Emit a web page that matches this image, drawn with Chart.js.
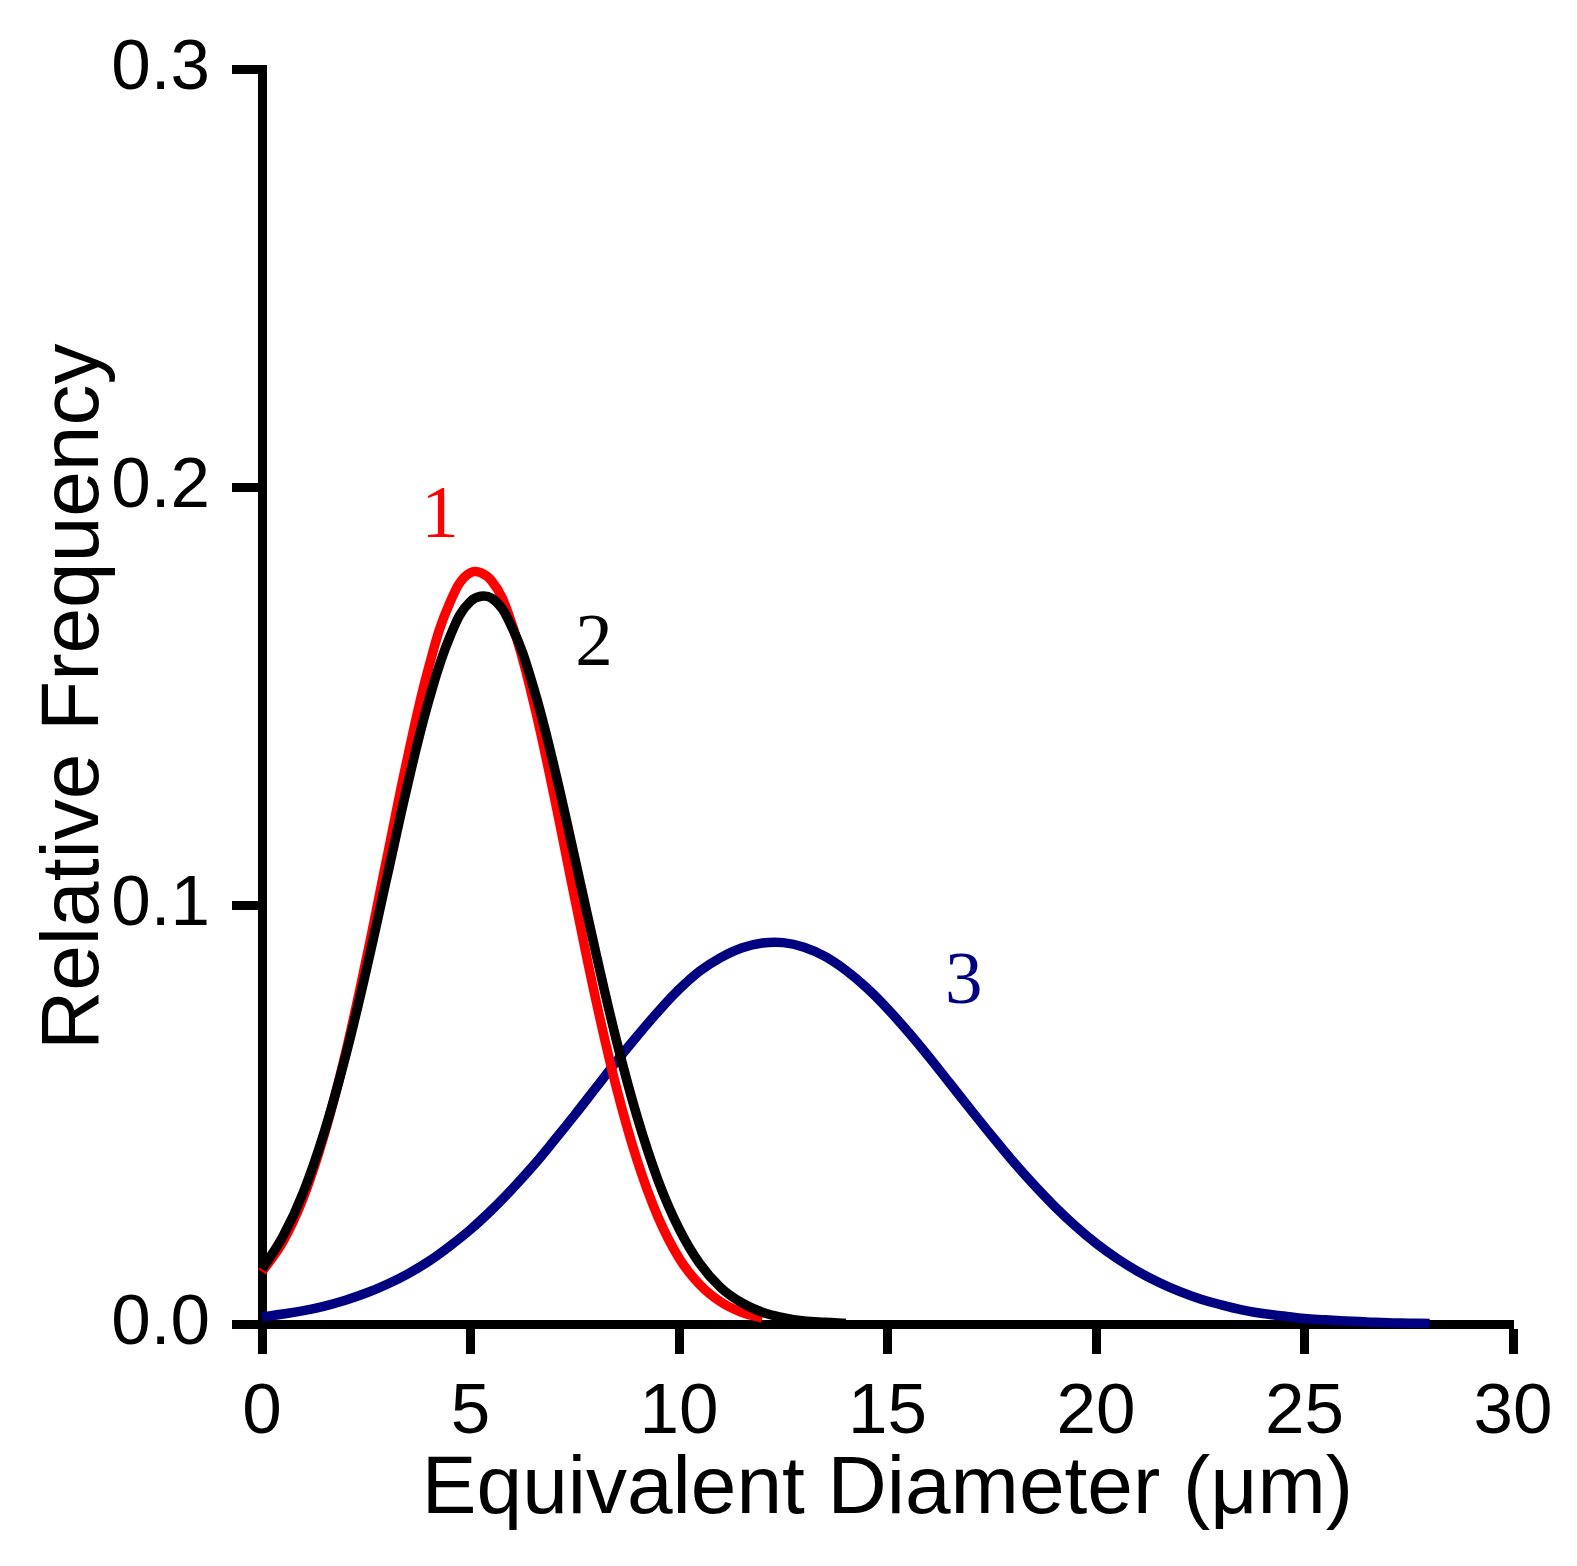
<!DOCTYPE html>
<html>
<head>
<meta charset="utf-8">
<script src="https://cdn.jsdelivr.net/npm/chart.js@4.4.1/dist/chart.umd.min.js"></script>
<style>
  html, body { margin: 0; padding: 0; background: #ffffff; }
  #wrap { width: 1577px; height: 1566px; }
</style>
</head>
<body>
<div id="wrap"><canvas id="c" width="1577" height="1566"></canvas></div>
<script>
// ---- Data ----
const xTitle = 'Equivalent Diameter (\u03bcm)';
const yTitle = 'Relative Frequency';
const xTicks = [0, 5, 10, 15, 20, 25, 30];
const yTicks = [0.0, 0.1, 0.2, 0.3];

const xCurve1 = [0, 0.5, 1, 1.5, 2, 2.5, 3, 3.5, 4, 4.5, 5, 5.5, 6, 6.5, 7, 7.5, 8, 8.5, 9, 9.5, 10, 10.5, 11, 11.5, 12];
const yCurve1 = [0.0125, 0.0196, 0.0304, 0.0455, 0.0646, 0.0872, 0.1117, 0.1359, 0.1571, 0.1724, 0.1797, 0.1778, 0.1672, 0.1492, 0.1265, 0.1018, 0.0778, 0.0565, 0.0390, 0.0255, 0.0158, 0.0094, 0.0053, 0.0028, 0.0014];

const xCurve2 = [0, 0.5, 1, 1.5, 2, 2.5, 3, 3.5, 4, 4.5, 5, 5.5, 6, 6.5, 7, 7.5, 8, 8.5, 9, 9.5, 10, 10.5, 11, 11.5, 12, 12.5, 13, 13.5, 14];
const yCurve2 = [0.0131, 0.0209, 0.0317, 0.0461, 0.0639, 0.0846, 0.1070, 0.1293, 0.1491, 0.1642, 0.1728, 0.1736, 0.1665, 0.1526, 0.1335, 0.1115, 0.0890, 0.0678, 0.0494, 0.0343, 0.0228, 0.0144, 0.0087, 0.0051, 0.0028, 0.0015, 0.0007, 0.0004, 0.0002];

const xCurve3 = [0, 0.5, 1, 1.5, 2, 2.5, 3, 3.5, 4, 4.5, 5, 5.5, 6, 6.5, 7, 7.5, 8, 8.5, 9, 9.5, 10, 10.5, 11, 11.5, 12, 12.5, 13, 13.5, 14, 14.5, 15, 15.5, 16, 16.5, 17, 17.5, 18, 18.5, 19, 19.5, 20, 20.5, 21, 21.5, 22, 22.5, 23, 23.5, 24, 24.5, 25, 25.5, 26, 26.5, 27, 27.5, 28];
const yCurve3 = [0.0017, 0.0024, 0.0032, 0.0043, 0.0057, 0.0074, 0.0095, 0.0120, 0.0150, 0.0186, 0.0226, 0.0272, 0.0323, 0.0378, 0.0438, 0.0500, 0.0564, 0.0628, 0.0689, 0.0747, 0.0800, 0.0844, 0.0876, 0.0899, 0.0911, 0.0912, 0.0901, 0.0879, 0.0846, 0.0804, 0.0754, 0.0698, 0.0638, 0.0575, 0.0512, 0.0450, 0.0390, 0.0334, 0.0282, 0.0235, 0.0193, 0.0157, 0.0126, 0.0100, 0.0078, 0.0060, 0.0046, 0.0034, 0.0025, 0.0019, 0.0013, 0.0010, 0.0007, 0.0005, 0.0003, 0.0002, 0.0001];

const curveLabels = ['1', '2', '3'];
const labelX = [4.27, 7.96, 16.83];
const labelY = [0.1883, 0.1577, 0.0768];

// ---- Build datasets ----
function zip(xs, ys) { return xs.map((x, i) => ({ x: x, y: ys[i] })); }

const curveColors = ['#ff0000', '#000000', '#000080'];

const labelPlugin = {
  id: 'curveLabels',
  afterDatasetsDraw(chart) {
    const ctx = chart.ctx;
    const xs = chart.scales.x, ys = chart.scales.y;
    ctx.save();
    ctx.font = '75px "Liberation Serif", "Times New Roman", serif';
    ctx.textAlign = 'center';
    ctx.textBaseline = 'alphabetic';
    curveLabels.forEach((t, i) => {
      ctx.fillStyle = curveColors[i];
      ctx.fillText(t, xs.getPixelForValue(labelX[i]), ys.getPixelForValue(labelY[i]));
    });
    ctx.restore();
  }
};

const tickFont = { family: '"Liberation Sans", Arial, sans-serif', size: 71 };
const titleFont = { family: '"Liberation Sans", Arial, sans-serif', size: 82, lineHeight: 1.2 };

new Chart(document.getElementById('c'), {
  type: 'scatter',
  data: {
    datasets: [
      { data: zip(xCurve1, yCurve1), borderColor: curveColors[0], order: 1 },
      { data: zip(xCurve2, yCurve2), borderColor: curveColors[1], order: 0 },
      { data: zip(xCurve3, yCurve3), borderColor: curveColors[2], order: 2 }
    ].map(d => Object.assign(d, {
      showLine: true, pointRadius: 0, borderWidth: 9.5, fill: false,
      tension: 0.4, clip: false,
      borderCapStyle: 'butt', borderJoinStyle: 'round'
    }))
  },
  options: {
    responsive: false,
    animation: false,
    events: [],
    layout: { padding: { left: 0, top: 69.5, right: 64, bottom: 0 } },
    plugins: { legend: { display: false }, tooltip: { enabled: false } },
    scales: {
      x: {
        type: 'linear', min: 0, max: 30,
        afterBuildTicks: s => { s.ticks = xTicks.map(v => ({ value: v })); },
        afterFit: s => { s.height = 242; },
        ticks: { color: '#000', font: tickFont, padding: 17, maxRotation: 0, autoSkip: false,
                 callback: v => String(v) },
        grid: { drawOnChartArea: false, drawTicks: true, tickLength: 30, tickWidth: 9, tickColor: '#000', color: '#000' },
        border: { display: true, width: 9, color: '#000' },
        title: { display: true, text: xTitle, color: '#000', font: titleFont, padding: { top: 0, bottom: 26 } }
      },
      y: {
        type: 'linear', min: 0, max: 0.3,
        afterBuildTicks: s => { s.ticks = yTicks.map(v => ({ value: v })); },
        afterFit: s => { s.width = 262; },
        ticks: { color: '#000', font: tickFont, padding: 22, autoSkip: false,
                 callback: v => Number(v).toFixed(1) },
        grid: { drawOnChartArea: false, drawTicks: true, tickLength: 30, tickWidth: 9, tickColor: '#000', color: '#000' },
        border: { display: true, width: 9, color: '#000' },
        title: { display: true, text: yTitle, color: '#000', font: titleFont, padding: { top: 26, bottom: 0 } }
      }
    }
  },
  plugins: [labelPlugin]
});
</script>
</body>
</html>
